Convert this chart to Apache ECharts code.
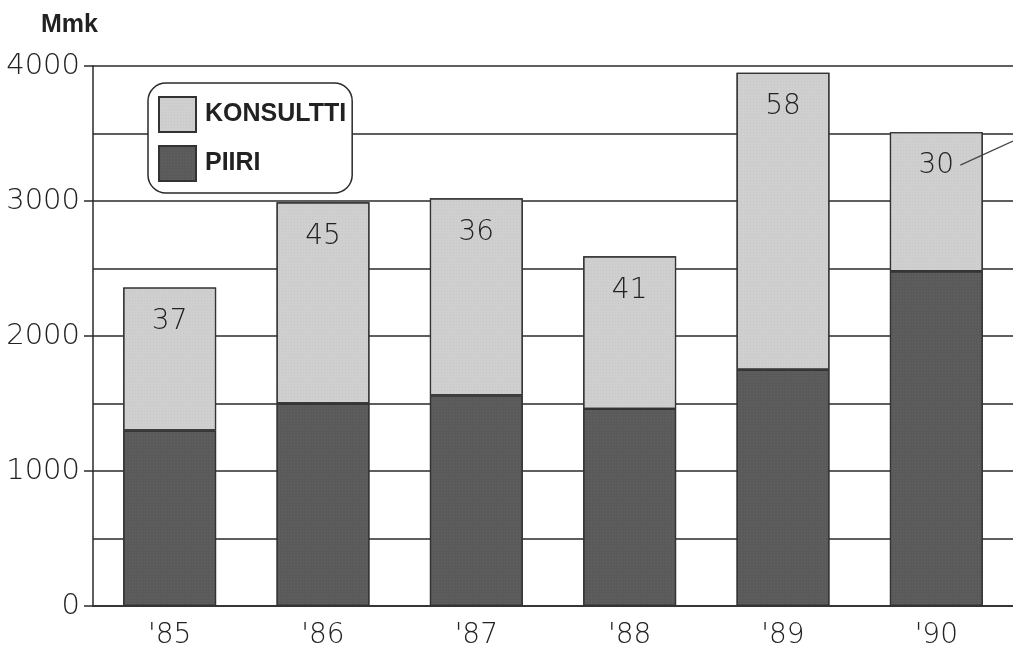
<!DOCTYPE html>
<html>
<head>
<meta charset="utf-8">
<script src="https://cdn.jsdelivr.net/npm/echarts@6/dist/echarts.min.js"></script>
<style>html,body{margin:0;padding:0;background:#fff}#c{width:1013px;height:653px}</style>
</head>
<body>
<div id="c"></div>
<script>
const categories = ["'85", "'86", "'87", "'88", "'89", "'90"];
const piiri = [1300, 1500, 1560, 1460, 1750, 2480];
const totals = [2360, 2990, 3020, 2590, 3950, 3510];
const konsultti = totals.map((t, i) => t - piiri[i]);
const percentLabels = ['37', '45', '36', '41', '58', '30'];

const chart = echarts.init(document.getElementById('c'), null, {renderer: 'canvas'});
const ink = '#2a2a2a';
const numFont = 'DejaVu Sans';

chart.setOption({
  animation: false,
  backgroundColor: '#ffffff',
  grid: {left: 93, right: 0, top: 66, bottom: 47, containLabel: false},
  title: {
    text: 'Mmk', left: 36, top: 8,
    textStyle: {fontFamily: 'Liberation Sans', fontWeight: 'bold', fontSize: 25, color: '#222'}
  },
  legend: {
    orient: 'vertical', left: 148, top: 83,
    data: ['KONSULTTI', 'PIIRI'],
    itemWidth: 37, itemHeight: 35, itemGap: 12,
    padding: [13, 6, 11, 10],
    backgroundColor: '#ffffff', borderColor: ink, borderWidth: 1.5, borderRadius: 18,
    selectedMode: false,
    textStyle: {fontFamily: 'Liberation Sans', fontWeight: 'bold', fontSize: 25, color: '#222', padding: [8, 0, 0, 4]},
    icon: 'rect'
  },
  xAxis: {
    type: 'category', data: categories,
    axisLine: {show: true, lineStyle: {color: ink, width: 1.5}},
    axisTick: {show: false},
    axisLabel: {fontFamily: numFont, fontSize: 28, color: '#222', margin: 16, fontWeight: 200}
  },
  yAxis: {
    type: 'value', min: 0, max: 4000, interval: 1000,
    axisLine: {show: true, lineStyle: {color: ink, width: 1.5}},
    axisTick: {show: true, inside: false, length: 9, lineStyle: {color: ink, width: 1.5}},
    axisLabel: {fontFamily: numFont, fontSize: 29, color: '#222', margin: 13, fontWeight: 200,
      formatter: v => String(v)},
    splitLine: {show: true, lineStyle: {color: ink, width: 1.5}},
    minorTick: {show: false, splitNumber: 2},
    minorSplitLine: {show: true, lineStyle: {color: ink, width: 1.5}}
  },
  series: [
    {
      name: 'PIIRI', type: 'bar', stack: 's', data: piiri, barWidth: '60.6%',
      itemStyle: {color: '#5a5a5a', borderColor: '#333', borderWidth: 1.2,
        decal: {symbol: 'rect', symbolSize: 0.5, dashArrayX: [1, 2], dashArrayY: [1, 2], color: 'rgba(255,255,255,0.25)', rotation: 0}}
    },
    {
      name: 'KONSULTTI', type: 'bar', stack: 's', data: konsultti, barWidth: '60.6%',
      itemStyle: {color: '#cfcfcf', borderColor: '#333', borderWidth: 1.2,
        decal: {symbol: 'rect', symbolSize: 0.5, dashArrayX: [1, 2], dashArrayY: [1, 2], color: 'rgba(90,90,90,0.25)', rotation: 0}},
      label: {
        show: true, position: 'insideTop', distance: 20,
        formatter: p => percentLabels[p.dataIndex],
        fontFamily: numFont, fontSize: 28, color: '#222', fontWeight: 200
      }
    }
  ]
});

// leader line from the last label towards the right edge
const anchor = chart.convertToPixel({gridIndex: 0}, [categories.length - 1, totals[totals.length - 1]]);
chart.setOption({
  graphic: [{
    type: 'line', z: 100,
    shape: {x1: anchor[0] + 24, y1: anchor[1] + 33, x2: 1013, y2: anchor[1] + 9},
    style: {stroke: '#444', lineWidth: 1.2}
  }]
});
</script>
</body>
</html>
